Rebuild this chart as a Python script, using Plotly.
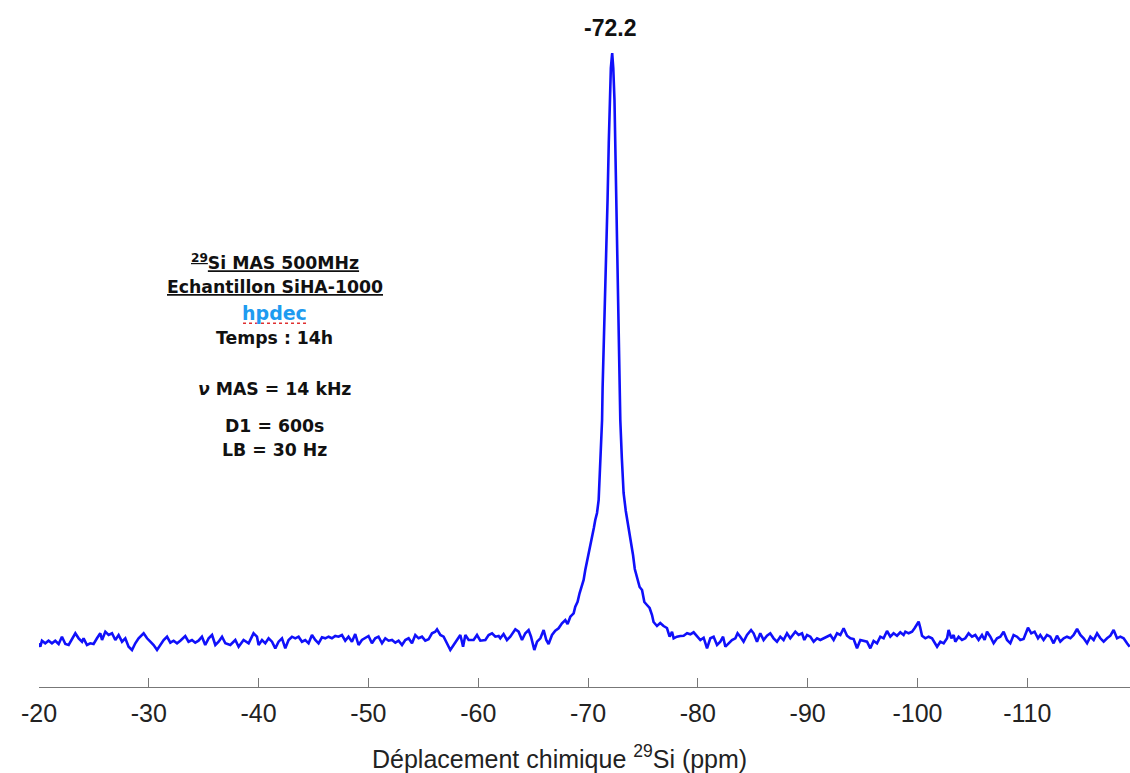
import plotly.graph_objects as go

# ---------------- data ----------------
# chemical shift (ppm) and intensity (arbitrary units) -- segments along the spectrum
shift_a = [-20.00, -20.12, -20.27, -20.57, -20.87, -21.18, -21.48, -21.79, -22.09, -22.40,
           -22.70, -23.01, -23.31, -23.61, -23.92, -24.06, -24.37, -24.67, -24.97, -25.28,
           -25.58, -25.74, -26.04, -26.34, -26.65, -26.95, -27.25, -27.56, -27.86, -28.16,
           -28.47, -28.77, -29.07, -29.53, -29.84, -30.14, -30.44, -30.75, -31.05, -31.35,
           -31.66, -31.96, -32.26, -32.57, -32.87, -33.32, -33.62, -33.93, -34.23, -34.53,
           -34.84, -35.14, -35.45, -35.76, -36.06, -36.36, -36.67, -36.97, -37.42, -37.88,
           -38.18, -38.63, -39.09]
intensity_a = [-0.3, -3.7, 2.3, -0.3, 2.3, -0.3, 2.3, -1.0, 6.3, -1.0,
               -2.0, 4.7, 9.7, 4.7, 1.3, 4.7, -2.0, -0.3, -1.0, 4.7,
               9.7, 3.0, 11.3, 8.0, 9.7, 3.0, 8.0, 1.3, 4.7, -3.7,
               -7.0, -0.3, 4.7, 9.7, 4.7, 1.3, -2.0, -7.0, -2.0, 3.0,
               6.3, 0.3, 2.3, -0.3, 2.3, 7.0, 1.3, 3.0, 0.3, 2.3,
               6.3, -2.0, 4.7, 8.0, -2.0, 1.3, 6.3, -0.3, -2.0, 3.0,
               -3.7, 3.0, -0.3]

shift_b = [-39.54, -39.85, -40.00, -40.31, -40.61, -40.91, -41.22, -41.52, -41.82, -42.13,
           -42.43, -42.73, -43.04, -43.34, -43.64, -43.95, -44.25, -44.55, -44.86, -45.16,
           -45.46, -45.77, -46.07, -46.37, -46.68, -46.98, -47.28, -47.59, -47.89, -48.19,
           -48.50, -48.80, -49.10, -49.41, -49.71, -50.01, -50.32, -50.62, -50.92, -51.24,
           -51.54, -51.84, -52.15, -52.45, -52.75, -53.06, -53.36, -53.66, -53.97, -54.27,
           -54.57, -54.88, -55.18, -55.48, -55.79, -56.09, -56.25, -56.55, -56.85, -57.16,
           -57.46, -57.76, -58.07]
intensity_b = [9.7, 6.3, -2.0, 3.0, -0.3, 4.7, 1.3, -5.3, 1.3, 4.7,
               -5.3, 3.0, 6.3, 4.7, 6.3, 1.3, 3.0, -0.3, 8.0, 3.0,
               -0.3, 5.7, 4.7, 6.3, 4.7, 7.0, 6.3, 8.0, 2.3, 6.3,
               1.3, 9.0, -2.0, 3.0, 4.7, 7.0, -0.3, 4.7, 6.3, -0.3,
               4.7, 2.3, 3.0, 0.3, 2.3, -2.0, 3.0, 4.7, -0.3, 8.0,
               4.7, 6.3, 2.3, 3.7, 9.7, 11.3, 13.7, 8.0, 6.3, -0.3,
               -7.0, -2.0, 3.0]

shift_c = [-58.37, -58.52, -58.62, -58.83, -59.13, -59.58, -59.89, -60.19, -60.65, -60.95,
           -61.26, -61.56, -61.86, -62.01, -62.31, -62.62, -62.92, -63.38, -63.68, -63.99,
           -64.29, -64.59, -64.81, -65.11, -65.36, -65.66, -65.96, -66.20, -66.41, -66.72,
           -67.02, -67.32, -67.63, -67.93, -68.14, -68.39, -68.69, -68.84, -69.05, -69.23,
           -69.45, -69.60, -69.75]
intensity_c = [8.0, 1.3, -3.7, 8.0, 3.0, 3.0, 8.0, 2.3, 3.0, 8.0,
               9.7, 6.3, 7.0, 4.7, 9.0, 3.0, 6.3, 13.7, 11.3, 3.0,
               9.7, 13.0, 6.3, -7.0, 1.3, 4.7, 13.0, 3.0, -1.0, 8.0,
               12.3, 14.7, 19.7, 23.0, 19.0, 26.3, 29.7, 36.3, 41.3, 49.7,
               56.3, 63.0, 73.0]

shift_peak = [-69.89, -70.05, -70.21, -70.36, -70.53, -70.66, -70.82, -70.97, -71.06, -71.12,
              -71.28, -71.33, -71.51, -71.62, -71.78, -71.89, -71.97, -72.08, -72.20, -72.30,
              -72.41, -72.56, -72.67, -72.79, -72.88, -72.94, -73.08, -73.24, -73.44, -73.70,
              -73.90, -74.10, -74.26, -74.46, -74.61, -74.70, -74.92, -75.13, -75.37, -75.61,
              -75.83, -75.97, -76.28, -76.58, -76.88, -77.19, -77.43, -77.65, -77.80, -78.10,
              -78.41]
intensity_peak = [80, 90, 98, 106, 115, 123, 130, 143, 165, 190,
                  223, 256, 323, 380, 443, 500, 543, 575, 590, 575,
                  543, 443, 380, 323, 270, 223, 185, 150, 132, 116,
                  102, 88, 74, 65, 60, 56, 53, 41, 38, 35,
                  28, 21, 17, 20, 17, 15, 6.3, 11.3, 4.7, 6.3,
                  7.0]

shift_d = [-78.71, -79.02, -79.32, -79.62, -79.93, -80.23, -80.53, -80.84, -81.14, -81.44,
           -81.75, -82.05, -82.30, -82.51, -82.81, -83.11, -83.42, -83.62, -83.87, -84.17,
           -84.48, -84.85, -85.08, -85.39, -85.69, -85.99, -86.30, -86.60, -86.90, -87.21,
           -87.51, -87.81, -88.12, -88.42, -88.88, -89.18, -89.49, -89.70, -89.95, -90.25,
           -90.55, -90.86, -91.16, -91.46, -91.77, -92.07, -92.37, -92.68, -92.98, -93.28,
           -93.59, -93.89, -94.19, -94.50, -94.80, -95.10, -95.41, -95.71, -96.01, -96.32,
           -96.62, -96.92, -97.23, -97.53, -97.83, -98.14, -98.44, -98.74]
intensity_d = [7.3, 9.7, 8.7, 10.7, 6.3, 3.0, 5.3, -5.3, 4.7, 6.3,
               -2.0, 1.3, 6.3, -3.7, -0.3, 3.0, 4.7, 9.7, 6.3, 1.3,
               8.0, 13.0, 9.7, 1.3, 9.7, 3.0, 7.3, 9.7, 4.7, 1.3,
               6.3, 3.0, 9.7, 4.7, 11.3, 8.0, 9.7, 3.0, 8.0, 6.3,
               1.3, 4.7, 3.0, 4.7, 6.3, 8.0, 3.0, 9.7, 8.0, 14.7,
               7.3, 4.7, 4.0, -5.3, 3.0, 2.0, 1.3, -5.3, 2.0, -0.3,
               6.3, 4.7, 12.0, 6.3, 9.7, 7.3, 10.7, 8.0]

shift_e = [-98.90, -99.20, -99.51, -99.74, -99.96, -100.11, -100.26, -100.42, -100.72, -101.02,
           -101.33, -101.63, -101.79, -102.09, -102.39, -102.70, -102.84, -103.09, -103.30, -103.45,
           -103.75, -104.06, -104.36, -104.66, -104.97, -105.27, -105.57, -105.88, -106.12, -106.34,
           -106.64, -106.94, -107.25, -107.55, -107.85, -108.16, -108.46, -108.76, -109.07, -109.37,
           -109.67, -110.07, -110.37, -110.67, -110.98, -111.19, -111.49, -111.80, -112.10, -112.40,
           -112.71, -113.01, -113.32, -113.62, -113.93, -114.23, -114.54, -114.84, -115.14, -115.45,
           -115.75, -116.05, -116.36, -116.66, -116.96, -117.27, -117.57, -117.87, -118.18, -118.48,
           -118.78, -119.09, -119.33]
intensity_e = [11.3, 9.7, 11.3, 14.7, 18.0, 21.3, 15.3, 7.3, 4.7, 6.3,
               4.7, -0.3, -3.7, 1.3, -0.3, 4.7, 13.0, 4.7, 8.0, 1.3,
               6.3, 3.0, 4.7, 9.7, 6.3, 8.0, 3.0, 8.0, 3.0, 11.3,
               6.3, -0.3, 4.7, 6.3, 11.3, 3.0, -0.3, 8.0, 6.3, 3.0,
               4.0, 15.3, 9.7, 11.3, 4.7, 8.0, 3.0, 8.0, 6.3, -0.3,
               7.3, 1.3, 4.7, 6.3, 4.7, 8.0, 14.0, 8.0, 4.7, -0.3,
               6.3, 3.0, 9.7, 4.7, 1.3, 4.7, 7.3, 13.0, 4.7, 6.3,
               4.7, -0.3, -3.7]

tick_values = [-20, -30, -40, -50, -60, -70, -80, -90, -100, -110]
tick_labels = ["-20", "-30", "-40", "-50", "-60", "-70", "-80", "-90", "-100", "-110"]
peak_position = -72.2
peak_label = "-72.2"

info_lines = [
    "<b><u><sup>29</sup>Si MAS 500MHz</u></b>",
    "<b><u>Echantillon SiHA-1000</u></b>",
    "<b>hpdec</b>",
    "<b>Temps : 14h</b>",
    "<b><i>ν</i> MAS = 14 kHz</b>",
    "<b>D1 = 600s</b>",
    "<b>LB = 30 Hz</b>",
]
info_colors = ["#111111", "#111111", "#1E9BF0", "#111111", "#111111", "#111111", "#111111"]
info_sizes = [17.3, 17.3, 19, 17.3, 17.3, 17.3, 17.3]
info_y = [0.619, 0.582, 0.545, 0.508, 0.434, 0.380, 0.345]

# ---------------- assemble ----------------
segments = [(shift_a, intensity_a), (shift_b, intensity_b), (shift_c, intensity_c),
            (shift_peak, intensity_peak), (shift_d, intensity_d), (shift_e, intensity_e)]
ppm, inten = [], []
for s, v in segments:
    for a, b in zip(s, v):
        ppm.append(a)
        inten.append(b)

fig = go.Figure()
fig.add_trace(go.Scatter(x=ppm, y=inten, mode="lines",
                         line=dict(color="rgb(16,16,250)", width=2.6),
                         hoverinfo="skip", showlegend=False))

axis_font = dict(family="Liberation Sans, Arial, sans-serif", size=25, color="#222222")

fig.update_layout(
    width=1130, height=773,
    margin=dict(l=39, r=0, t=0, b=86, pad=0),
    paper_bgcolor="white", plot_bgcolor="white",
    showlegend=False,
    xaxis=dict(range=[-20, -119.36], tickmode="array", tickvals=tick_values, ticktext=tick_labels,
               ticks="inside", ticklen=9, tickwidth=1.3, tickcolor="#777777",
               showline=True, linecolor="#777777", linewidth=1.3,
               showgrid=False, zeroline=False, tickfont=axis_font,
               ticklabelstandoff=4, fixedrange=True),
    yaxis=dict(range=[-44, 643], visible=False, showgrid=False, zeroline=False, fixedrange=True),
)

annotations = [
    dict(x=peak_position, y=615.5, xref="x", yref="y", text="<b>" + peak_label + "</b>",
         showarrow=False, xanchor="center", yanchor="middle", xshift=-2,
         font=dict(family="Liberation Sans, Arial, sans-serif", size=23, color="#111111")),
    dict(x=0.4775, y=-0.1015, xref="paper", yref="paper",
         text="Déplacement chimique <sup>29</sup>Si (ppm)",
         showarrow=False, xanchor="center", yanchor="middle", font=axis_font),
]
for txt, col, sz, yy in zip(info_lines, info_colors, info_sizes, info_y):
    annotations.append(dict(x=0.2163, y=yy, xref="paper", yref="paper", text=txt,
                            showarrow=False, xanchor="center", yanchor="middle",
                            font=dict(family="DejaVu Sans, sans-serif", size=sz, color=col)))
fig.update_layout(annotations=annotations)

# red dotted spell-check underline under "hpdec"
fig.add_shape(type="line", xref="paper", yref="paper", x0=0.187, x1=0.2466, y0=0.5295, y1=0.5295,
              line=dict(color="#E03030", width=1.5, dash="dot"))

fig.write_html("out.html", config={"displayModeBar": False},
               post_script="document.body.style.margin='0';")
